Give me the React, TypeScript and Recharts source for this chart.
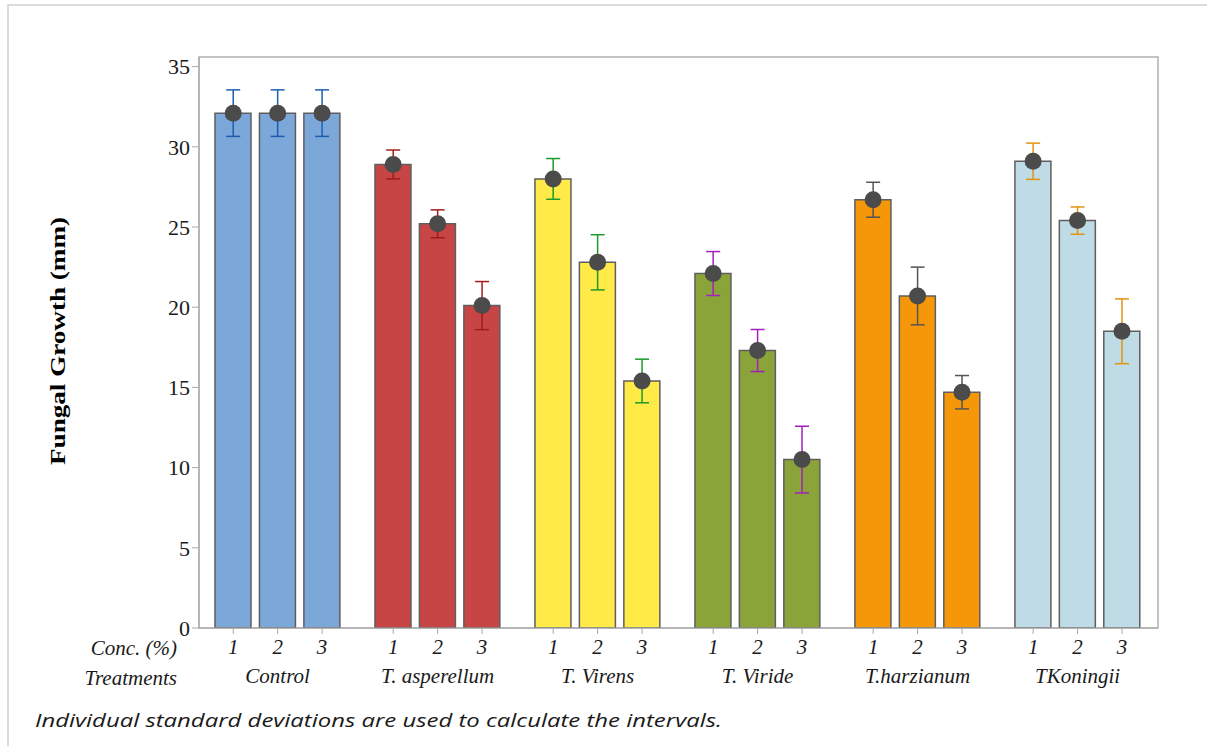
import React from 'react';
import {
  ComposedChart,
  Bar,
  Cell,
  Scatter,
  ErrorBar,
  XAxis,
  YAxis,
  ReferenceArea
} from 'recharts';

const treatments = ['Control', 'T. asperellum', 'T. Virens', 'T. Viride', 'T.harzianum', 'TKoningii'];
const concLevels = ['1', '2', '3'];

// mean fungal growth (mm) per treatment, one value per concentration
const controlMean = [32.1, 32.1, 32.1];
const asperellumMean = [28.9, 25.2, 20.1];
const virensMean = [28.0, 22.8, 15.4];
const virideMean = [22.1, 17.3, 10.5];
const harzianumMean = [26.7, 20.7, 14.7];
const koningiiMean = [29.1, 25.4, 18.5];

// individual standard deviations
const controlSd = [1.45, 1.45, 1.45];
const asperellumSd = [0.9, 0.87, 1.5];
const virensSd = [1.27, 1.72, 1.36];
const virideSd = [1.37, 1.31, 2.08];
const harzianumSd = [1.09, 1.8, 1.04];
const koningiiSd = [1.13, 0.85, 2.02];

const yTicks = [0, 5, 10, 15, 20, 25, 30, 35];

const means = [controlMean, asperellumMean, virensMean, virideMean, harzianumMean, koningiiMean];
const sds = [controlSd, asperellumSd, virensSd, virideSd, harzianumSd, koningiiSd];

const barColors = ['#7ba7d9', '#c84545', '#ffea47', '#8aa43a', '#f59709', '#bedbe6'];
const errColors = ['#1d5fae', '#a11d1d', '#1c9a2a', '#a41fbf', '#555555', '#e3940f'];

// groups are separated by a wider gap than bars inside a group
const GROUP_STEP = 3.6;

interface Row {
  pos: number;
  group: number;
  conc: number;
  mean: number;
  sd: number;
}

const rows: Row[] = [];
means.forEach((m, g) => {
  m.forEach((v, c) => {
    rows.push({ pos: g * GROUP_STEP + c, group: g, conc: c, mean: v, sd: sds[g][c] });
  });
});

const tickPositions = rows.map(r => r.pos);

const serif = '"Liberation Serif", "Times New Roman", serif';

const XTick = (props: any) => {
  const { x, y, payload } = props;
  const row = rows.find(r => Math.abs(r.pos - payload.value) < 1e-6);
  if (!row) return null;
  return (
    <g>
      <text x={x} y={y + 18} textAnchor="middle" fontFamily={serif} fontStyle="italic" fontSize={21} fill="#1a1a1a">
        {concLevels[row.conc]}
      </text>
      {row.conc === 1 && (
        <text x={x} y={y + 47} textAnchor="middle" fontFamily={serif} fontStyle="italic" fontSize={21} fill="#1a1a1a">
          {treatments[row.group]}
        </text>
      )}
    </g>
  );
};

const Dot = (props: any) => <circle cx={props.cx} cy={props.cy} r={8.5} fill="#4b4b4b" />;

const X_MIN = -0.77;
const X_MAX = 20.81;
const Y_MAX = 35.6;

export default function App() {
  return (
    <div style={{ position: 'absolute', left: 0, top: 0, width: 1207, height: 746, overflow: 'hidden', background: '#fff' }}>
      <div style={{ position: 'absolute', left: 7, top: 4, width: 1300, height: 900, border: '2px solid #dcdcdc' }} />
      <div style={{ position: 'absolute', left: 0, top: 0 }}>
        <ComposedChart
          width={1207}
          height={746}
          data={rows}
          margin={{ top: 57, right: 49, left: 0, bottom: 0 }}
        >
          <XAxis
            dataKey="pos"
            type="number"
            domain={[X_MIN, X_MAX]}
            ticks={tickPositions}
            allowDataOverflow
            height={118}
            tickSize={6}
            tickMargin={2}
            stroke="#a8a8a8"
            tick={<XTick />}
            interval={0}
          />
          <YAxis
            type="number"
            domain={[0, Y_MAX]}
            ticks={yTicks}
            allowDataOverflow
            width={199}
            tickSize={7}
            tickMargin={2}
            stroke="#a8a8a8"
            tick={{ fontFamily: serif, fontSize: 22, fill: '#1a1a1a' }}
          />
          <ReferenceArea x1={X_MIN} x2={X_MAX} y1={0} y2={Y_MAX} fill="none" stroke="#b0b0b0" strokeWidth={1.5} />
          <Bar dataKey="mean" barSize={36} stroke="#5e5e5e" strokeWidth={1.5} isAnimationActive={false}>
            {rows.map((r, i) => (
              <Cell key={i} fill={barColors[r.group]} />
            ))}
          </Bar>
          {treatments.map((t, g) => (
            <Scatter
              key={t}
              name={t}
              data={rows.filter(r => r.group === g)}
              dataKey="mean"
              shape={<Dot />}
              isAnimationActive={false}
            >
              <ErrorBar dataKey="sd" direction="y" width={7} stroke={errColors[g]} strokeWidth={1.5} />
            </Scatter>
          ))}
        </ComposedChart>
      </div>
      <svg width={1207} height={746} style={{ position: 'absolute', left: 0, top: 0, pointerEvents: 'none' }}>
        <text
          transform="translate(65,341) rotate(-90)"
          textAnchor="middle"
          fontFamily={serif}
          fontWeight="bold"
          fontSize={21}
          fill="#000"
          textLength={248}
          lengthAdjust="spacingAndGlyphs"
        >
          Fungal Growth (mm)
        </text>
        <text x={177} y={655} textAnchor="end" fontFamily={serif} fontStyle="italic" fontSize={21} fill="#1a1a1a">
          Conc. (%)
        </text>
        <text x={177} y={685} textAnchor="end" fontFamily={serif} fontStyle="italic" fontSize={21} fill="#1a1a1a">
          Treatments
        </text>
        <text
          x={35}
          y={727}
          fontFamily='"Open Sans", sans-serif'
          fontStyle="italic"
          fontSize={18}
          fill="#1a1a1a"
          textLength={687}
          lengthAdjust="spacingAndGlyphs"
        >
          Individual standard deviations are used to calculate the intervals.
        </text>
      </svg>
    </div>
  );
}
